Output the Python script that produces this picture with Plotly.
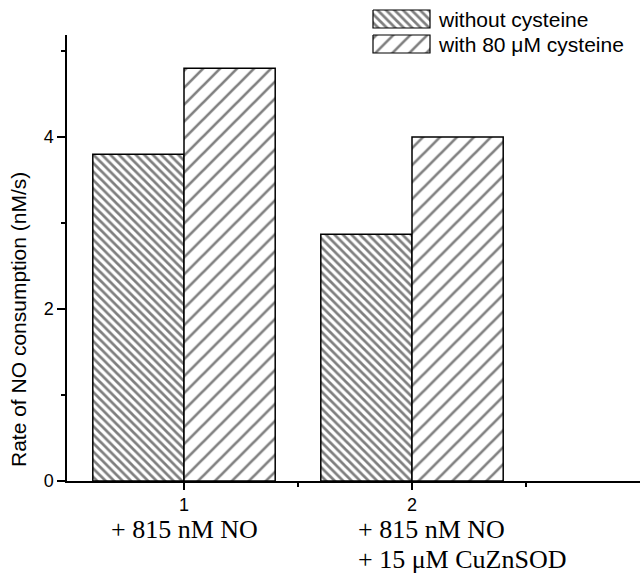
import plotly.graph_objects as go

# ---- data ----
groups = [1, 2]
without_cys = [3.8, 2.87]
with_cys = [4.8, 4.0]
series_names = ["without cysteine", "with 80 \u03bcM cysteine"]
group_labels = [["+ 815 nM NO"], ["+ 815 nM NO", "+ 15 \u03bcM CuZnSOD"]]
y_title = "Rate of NO consumption (nM/s)"

W, H = 644, 578
ML, MR, MT, MB = 67, 4, 5, 97
plot_w = W - ML - MR
plot_h = H - MT - MB
px_per_unit_y = 86.0
px_per_unit_x = 228.0
tick1_px = 184
ytop_px = 35
y_dom_top = (H - MB - ytop_px) / plot_h
yrange = [0, (H - MB - ytop_px) / px_per_unit_y]


def px_x(px):
    return (px - ML) / plot_w


def px_y(py):
    return (H - MB - py) / plot_h


fig = go.Figure()

pat_without = dict(shape="\\", size=6, solidity=0.45, fgcolor="black", bgcolor="white")
pat_with = dict(shape="/", size=12, solidity=0.22, fgcolor="black", bgcolor="white")

fig.add_trace(go.Bar(
    x=groups, y=without_cys, name=series_names[0], offset=-0.4, width=0.4,
    marker=dict(color="white", line=dict(color="black", width=1.5), pattern=pat_without),
    showlegend=False))
fig.add_trace(go.Bar(
    x=groups, y=with_cys, name=series_names[1], offset=0, width=0.4,
    marker=dict(color="white", line=dict(color="black", width=1.5), pattern=pat_with),
    showlegend=False))

# legend swatches drawn on an auxiliary pixel-space axis
leg_boxes = [(373, 430, 10, 28), (373, 430, 35, 53)]
for (x0, x1, y0, y1), pat in zip(leg_boxes, [pat_without, pat_with]):
    fig.add_trace(go.Scatter(
        x=[x0, x1, x1, x0, x0], y=[y0, y0, y1, y1, y0], mode="lines",
        fill="toself", fillcolor="white", fillpattern=pat,
        line=dict(color="black", width=1.2), xaxis="x2", yaxis="y2",
        showlegend=False, hoverinfo="skip"))

sans = "Liberation Sans, Arial"
serif = "Liberation Serif, Times New Roman"
annotations = []
for (x0, x1, y0, y1), name in zip(leg_boxes, series_names):
    annotations.append(dict(x=px_x(x1 + 6), y=px_y((y0 + y1) / 2), xref="paper", yref="paper", text=name,
                            showarrow=False, xanchor="left", yanchor="middle",
                            font=dict(family=sans, size=21, color="black")))

# group labels below the axis
annotations.append(dict(x=groups[0], y=px_y(529), xref="x", yref="paper", text=group_labels[0][0],
                        showarrow=False, xanchor="center", yanchor="middle",
                        font=dict(family=serif, size=26, color="black")))
annotations.append(dict(x=px_x(356), y=px_y(529), xref="paper", yref="paper", text=group_labels[1][0],
                        showarrow=False, xanchor="left", yanchor="middle",
                        font=dict(family=serif, size=26, color="black")))
annotations.append(dict(x=px_x(356), y=px_y(559), xref="paper", yref="paper", text=group_labels[1][1],
                        showarrow=False, xanchor="left", yanchor="middle",
                        font=dict(family=serif, size=26, color="black")))

# y axis title
annotations.append(dict(x=px_x(18), y=px_y(320), xref="paper", yref="paper",
                        text=y_title, textangle=-90, showarrow=False,
                        xanchor="center", yanchor="middle",
                        font=dict(family=sans, size=21, color="black")))

x0v = 1 - (tick1_px - ML) / px_per_unit_x
x1v = x0v + plot_w / px_per_unit_x

fig.update_layout(
    width=W, height=H, margin=dict(l=ML, r=MR, t=MT, b=MB),
    paper_bgcolor="white", plot_bgcolor="rgba(0,0,0,0)",
    barmode="overlay", annotations=annotations,
    xaxis=dict(range=[x0v, x1v], tickvals=groups, ticktext=[str(g) for g in groups],
               showline=True, linecolor="black", linewidth=1.5, ticks="outside", ticklen=7,
               tickwidth=1.5, tickcolor="black", showgrid=False, zeroline=False,
               tickfont=dict(family=sans, size=18, color="black"),
               minor=dict(tickvals=[1.5, 2.5], ticks="outside", ticklen=4, tickwidth=1.5, tickcolor="black"),
               anchor="y"),
    yaxis=dict(range=yrange, domain=[0, y_dom_top], tickvals=[0, 2, 4],
               showline=True, linecolor="black", linewidth=1.5, ticks="outside", ticklen=8,
               tickwidth=1.5, tickcolor="black", showgrid=False, zeroline=False,
               tickfont=dict(family=sans, size=18, color="black"),
               minor=dict(tickvals=[1, 3, 5], ticks="outside", ticklen=4, tickwidth=1.5, tickcolor="black"),
               anchor="x"),
    xaxis2=dict(range=[ML, W - MR], domain=[0, 1], visible=False, anchor="y2", fixedrange=True),
    yaxis2=dict(range=[H - MB, MT], domain=[0, 1], visible=False, anchor="x2", fixedrange=True),
)

fig.write_html("out.html")
